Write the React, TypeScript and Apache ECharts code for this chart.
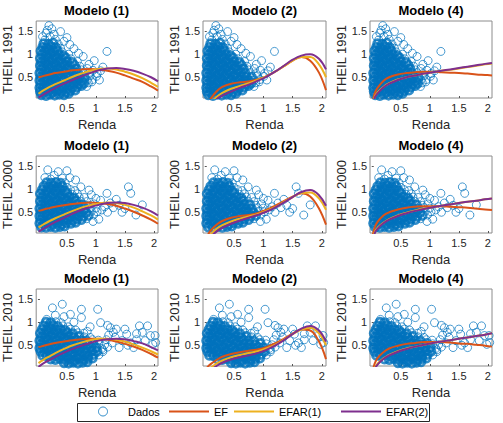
import React, { useEffect, useRef } from "react";
import * as echarts from "echarts";

const FONT = "'Liberation Sans', Arial, Helvetica, sans-serif";

const years = ["1991", "2000", "2010"];
const models = ["Modelo (1)", "Modelo (2)", "Modelo (4)"];
const curveNames = ["EF", "EFAR(1)", "EFAR(2)"];
const curveColors = ["#D95319", "#EDB120", "#7E2F8E"];
const xTicks = [0.5, 1, 1.5, 2];
const yTicks = [0.5, 1, 1.5];

const curveX = [0.01, 0.05, 0.1, 0.2, 0.3, 0.45, 0.6, 0.75, 0.9, 1.05, 1.2, 1.35, 1.5, 1.65, 1.8, 1.95, 2.07];

// ---- scatter data (Renda, THEIL): dense core and sparse points ----
const core1991 = [
  [0.06,0.12],[0.14,0.1],[0.21,0.13],[0.29,0.11],[0.37,0.13],[0.45,0.12],[0.53,0.15],
  [0.04,0.19],[0.1,0.18],[0.18,0.2],[0.25,0.18],[0.32,0.2],[0.4,0.19],[0.48,0.18],[0.56,0.21],[0.64,0.22],
  [0.03,0.27],[0.09,0.26],[0.16,0.28],[0.23,0.26],[0.3,0.27],[0.36,0.25],[0.43,0.28],[0.51,0.26],[0.59,0.28],[0.67,0.29],[0.75,0.32],
  [0.05,0.35],[0.12,0.34],[0.19,0.36],[0.26,0.34],[0.33,0.35],[0.41,0.33],[0.48,0.36],[0.55,0.34],[0.62,0.36],[0.7,0.35],[0.79,0.37],
  [0.03,0.43],[0.1,0.42],[0.16,0.44],[0.23,0.42],[0.31,0.43],[0.38,0.41],[0.45,0.44],[0.52,0.42],[0.6,0.44],[0.68,0.43],[0.76,0.42],
  [0.05,0.51],[0.12,0.5],[0.19,0.52],[0.26,0.5],[0.33,0.51],[0.4,0.49],[0.48,0.52],[0.55,0.5],[0.63,0.52],[0.71,0.51],[0.8,0.5],
  [0.03,0.59],[0.1,0.58],[0.17,0.6],[0.24,0.58],[0.3,0.59],[0.37,0.57],[0.45,0.6],[0.53,0.58],[0.61,0.6],[0.69,0.59],
  [0.06,0.67],[0.13,0.66],[0.2,0.68],[0.27,0.66],[0.34,0.67],[0.42,0.65],[0.49,0.68],[0.57,0.66],[0.66,0.68],
  [0.04,0.75],[0.1,0.74],[0.17,0.76],[0.24,0.74],[0.31,0.75],[0.39,0.73],[0.46,0.76],[0.54,0.74],[0.63,0.76],
  [0.06,0.83],[0.13,0.82],[0.2,0.84],[0.27,0.82],[0.35,0.83],[0.42,0.81],[0.5,0.84],[0.59,0.82],
  [0.04,0.91],[0.11,0.9],[0.18,0.92],[0.25,0.9],[0.32,0.91],[0.4,0.89],[0.48,0.92],
  [0.07,0.99],[0.14,0.98],[0.21,1.0],[0.29,0.98],[0.36,0.99],[0.44,0.97],
  [0.05,1.07],[0.12,1.06],[0.19,1.08],[0.27,1.06],[0.34,1.07],
  [0.08,1.15],[0.15,1.14],[0.23,1.16],[0.31,1.14],
  [0.1,1.23],[0.18,1.22],[0.26,1.24]
];
const sparse1991 = [
  [0.87,0.38],[0.85,0.44],[0.94,0.45],[0.9,0.53],[1.01,0.52],[0.78,0.6],[0.88,0.58],[0.75,0.66],[0.85,0.69],
  [0.72,0.74],[0.68,0.84],[0.57,0.9],[0.53,1.0],[0.42,1.05],[0.39,1.13],[0.35,1.22],
  [0.14,1.46],[0.19,1.62],[0.24,1.55],[0.39,1.49],[0.21,1.38],[0.3,1.32],[0.45,1.28],[0.55,1.21],[0.62,1.12],[0.7,1.02],
  [0.5,1.36],[0.12,1.31],[0.78,0.95],[0.88,0.78],[0.95,0.65],[1.02,0.58],[1.08,0.64],[1.06,0.44],[1.19,1.06],[0.97,0.86],
  [1.12,0.72],[0.93,0.4],[0.84,0.3],[0.16,1.52],[0.28,1.43],[0.08,1.38]
];

const core2000 = [
  [0.06,0.18],[0.14,0.17],[0.22,0.19],[0.3,0.17],[0.38,0.19],[0.46,0.2],
  [0.03,0.26],[0.1,0.25],[0.17,0.27],[0.25,0.25],[0.33,0.26],[0.41,0.24],[0.49,0.27],[0.57,0.26],[0.65,0.28],
  [0.05,0.34],[0.12,0.33],[0.2,0.35],[0.27,0.33],[0.35,0.34],[0.43,0.32],[0.51,0.35],[0.59,0.33],[0.67,0.35],[0.75,0.34],
  [0.03,0.42],[0.09,0.41],[0.16,0.43],[0.23,0.41],[0.31,0.42],[0.38,0.4],[0.46,0.43],[0.54,0.41],[0.62,0.43],[0.7,0.42],[0.78,0.41],[0.87,0.43],
  [0.05,0.5],[0.12,0.49],[0.19,0.51],[0.27,0.49],[0.34,0.5],[0.42,0.48],[0.5,0.51],[0.58,0.49],[0.66,0.51],[0.74,0.5],[0.83,0.49],
  [0.03,0.58],[0.1,0.57],[0.17,0.59],[0.24,0.57],[0.31,0.58],[0.39,0.56],[0.47,0.59],[0.55,0.57],[0.63,0.59],[0.71,0.58],[0.8,0.57],
  [0.06,0.66],[0.13,0.65],[0.2,0.67],[0.28,0.65],[0.36,0.66],[0.44,0.64],[0.52,0.67],[0.6,0.65],[0.68,0.67],[0.77,0.66],
  [0.04,0.74],[0.11,0.73],[0.18,0.75],[0.26,0.73],[0.33,0.74],[0.41,0.72],[0.49,0.75],[0.57,0.73],[0.65,0.75],
  [0.07,0.82],[0.14,0.81],[0.22,0.83],[0.3,0.81],[0.38,0.82],[0.46,0.8],[0.54,0.83],[0.62,0.81],
  [0.04,0.9],[0.11,0.89],[0.18,0.91],[0.26,0.89],[0.34,0.9],[0.42,0.88],[0.5,0.91],
  [0.07,0.98],[0.15,0.97],[0.23,0.99],[0.31,0.97],[0.39,0.98],[0.47,0.96],
  [0.1,1.06],[0.18,1.05],[0.26,1.07],[0.34,1.05],[0.42,1.06],
  [0.15,1.14],[0.23,1.13],[0.31,1.15],[0.39,1.13]
];
const sparse2000 = [
  [0.84,0.36],[0.96,0.44],[0.92,0.52],[1.02,0.51],[0.9,0.6],[1.0,0.59],[0.87,0.65],[0.97,0.68],[0.74,0.74],[0.84,0.73],
  [0.71,0.83],[0.8,0.82],[0.59,0.89],[0.68,0.9],[0.56,0.99],[0.64,0.97],[0.5,1.04],[0.47,1.14],
  [0.17,1.42],[0.35,1.38],[0.5,1.4],[0.28,1.3],[0.55,1.25],[0.65,1.2],[0.12,1.25],[0.42,1.24],[0.22,1.22],[0.74,1.05],
  [0.88,0.98],[1.0,0.8],[1.08,0.76],[1.19,0.91],[1.25,0.7],[1.3,0.6],[1.4,0.65],[1.5,0.58],[1.56,1.05],[1.6,0.91],
  [1.69,0.44],[1.8,0.66],[1.45,0.5],[1.35,0.78],[1.2,0.5],[1.1,0.55],[1.05,0.35],[0.95,0.3],[1.15,0.62],[0.92,0.88]
];

const core2010 = [
  [0.45,0.12],[0.53,0.11],[0.61,0.13],[0.69,0.11],[0.77,0.13],[0.85,0.14],
  [0.22,0.2],[0.3,0.19],[0.38,0.21],[0.46,0.19],[0.54,0.2],[0.62,0.18],[0.7,0.21],[0.78,0.19],[0.86,0.21],[0.94,0.22],
  [0.08,0.28],[0.15,0.27],[0.23,0.29],[0.31,0.27],[0.39,0.28],[0.47,0.26],[0.55,0.29],[0.63,0.27],[0.71,0.29],[0.79,0.28],[0.87,0.27],[0.96,0.3],
  [0.05,0.36],[0.12,0.35],[0.2,0.37],[0.28,0.35],[0.36,0.36],[0.44,0.34],[0.52,0.37],[0.6,0.35],[0.68,0.37],[0.76,0.36],[0.84,0.35],[0.93,0.38],[1.02,0.37],
  [0.03,0.44],[0.1,0.43],[0.17,0.45],[0.25,0.43],[0.33,0.44],[0.41,0.42],[0.49,0.45],[0.57,0.43],[0.65,0.45],[0.73,0.44],[0.82,0.43],[0.91,0.46],[1.0,0.45],
  [0.05,0.52],[0.12,0.51],[0.2,0.53],[0.28,0.51],[0.36,0.52],[0.44,0.5],[0.52,0.53],[0.6,0.51],[0.68,0.53],[0.77,0.52],[0.86,0.51],[0.95,0.54],
  [0.03,0.6],[0.1,0.59],[0.17,0.61],[0.25,0.59],[0.33,0.6],[0.41,0.58],[0.49,0.61],[0.57,0.59],[0.66,0.61],[0.75,0.6],[0.84,0.59],
  [0.06,0.68],[0.13,0.67],[0.21,0.69],[0.29,0.67],[0.37,0.68],[0.45,0.66],[0.53,0.69],[0.62,0.67],[0.71,0.69],
  [0.04,0.76],[0.11,0.75],[0.19,0.77],[0.27,0.75],[0.35,0.76],[0.43,0.74],[0.51,0.77],[0.6,0.75],
  [0.07,0.84],[0.15,0.83],[0.23,0.85],[0.31,0.83],[0.39,0.84],[0.47,0.82],
  [0.1,0.92],[0.18,0.91],[0.26,0.93],[0.34,0.91],
  [0.14,1.0],[0.22,0.99]
];
const sparse2010 = [
  [1.05,0.29],[1.12,0.36],[1.1,0.43],[1.2,0.46],[1.05,0.53],[1.15,0.51],[0.94,0.62],[1.04,0.61],[0.8,0.68],[0.9,0.67],
  [0.69,0.77],[0.79,0.76],[0.56,0.85],[0.65,0.83],[0.43,0.92],[0.52,0.9],[0.31,1.01],[0.4,0.99],
  [0.25,1.31],[0.42,1.39],[0.56,1.17],[0.75,1.1],[0.75,1.28],[1.03,1.28],[0.15,1.06],[0.3,1.15],[0.45,1.12],[1.08,0.99],
  [1.2,0.93],[1.25,0.88],[1.35,0.85],[0.62,1.0],[0.9,0.9],[0.85,0.8],[1.53,0.74],[1.75,0.92],[1.89,0.92],[1.94,0.71],
  [2.02,0.71],[2.03,0.56],[1.8,0.78],[1.33,0.67],[1.45,0.6],[1.6,0.55],[1.7,0.62],[1.85,0.6],[1.55,0.5],[1.65,0.45],
  [1.4,0.45],[1.98,0.52],[1.3,0.78],[1.5,0.85],[1.22,0.72],[1.7,0.75],[1.28,0.55],[1.18,0.62],[1.12,0.4]
];

// ---- fitted curves, THEIL values at curveX ----
// Modelo (1)
const m1_1991_EF    = [0.50,0.51,0.53,0.56,0.59,0.62,0.65,0.67,0.68,0.67,0.64,0.60,0.54,0.47,0.40,0.30,0.21];
const m1_1991_EFAR1 = [0.14,0.18,0.22,0.29,0.35,0.43,0.51,0.58,0.64,0.68,0.69,0.67,0.62,0.56,0.48,0.38,0.29];
const m1_1991_EFAR2 = [0.06,0.09,0.13,0.20,0.27,0.36,0.44,0.52,0.59,0.65,0.69,0.70,0.68,0.64,0.58,0.50,0.41];
const m1_2000_EF    = [0.53,0.54,0.56,0.59,0.62,0.65,0.68,0.70,0.71,0.70,0.68,0.64,0.58,0.51,0.43,0.34,0.25];
const m1_2000_EFAR1 = [0.17,0.20,0.24,0.31,0.37,0.45,0.53,0.60,0.65,0.69,0.71,0.70,0.66,0.60,0.52,0.43,0.34];
const m1_2000_EFAR2 = [0.08,0.11,0.15,0.22,0.29,0.38,0.47,0.55,0.61,0.66,0.70,0.71,0.70,0.66,0.60,0.52,0.43];
const m1_2010_EF    = [0.46,0.47,0.49,0.52,0.55,0.58,0.61,0.63,0.64,0.64,0.62,0.58,0.53,0.47,0.40,0.31,0.23];
const m1_2010_EFAR1 = [0.11,0.15,0.19,0.26,0.33,0.42,0.50,0.56,0.61,0.64,0.64,0.62,0.58,0.52,0.45,0.37,0.30];
const m1_2010_EFAR2 = [0.03,0.07,0.11,0.18,0.25,0.34,0.42,0.49,0.55,0.60,0.63,0.64,0.63,0.59,0.54,0.46,0.39];
// Modelo (2)
const m2_1991_EF    = [-0.20,-0.08,0.03,0.19,0.29,0.36,0.39,0.41,0.45,0.52,0.62,0.74,0.86,0.94,0.86,0.60,0.22];
const m2_1991_EFAR1 = [-0.22,-0.15,-0.06,0.07,0.16,0.25,0.31,0.37,0.44,0.52,0.62,0.74,0.86,0.94,0.94,0.78,0.50];
const m2_1991_EFAR2 = [-0.25,-0.19,-0.12,0.02,0.10,0.19,0.27,0.34,0.42,0.51,0.62,0.75,0.88,0.97,1.00,0.90,0.67];
const m2_2000_EF    = [-0.10,0.00,0.10,0.23,0.31,0.38,0.42,0.44,0.48,0.55,0.64,0.74,0.84,0.91,0.84,0.58,0.23];
const m2_2000_EFAR1 = [-0.12,-0.05,0.02,0.14,0.22,0.30,0.36,0.41,0.46,0.53,0.61,0.72,0.83,0.92,0.93,0.80,0.55];
const m2_2000_EFAR2 = [-0.15,-0.09,-0.03,0.08,0.16,0.25,0.32,0.38,0.44,0.51,0.60,0.71,0.83,0.94,0.98,0.87,0.64];
const m2_2010_EF    = [-0.05,0.03,0.09,0.18,0.25,0.31,0.35,0.38,0.41,0.46,0.54,0.64,0.75,0.84,0.82,0.58,0.20];
const m2_2010_EFAR1 = [-0.08,-0.03,0.01,0.10,0.17,0.24,0.29,0.33,0.37,0.43,0.51,0.62,0.74,0.84,0.88,0.76,0.50];
const m2_2010_EFAR2 = [-0.12,-0.08,-0.04,0.05,0.12,0.19,0.24,0.28,0.33,0.40,0.49,0.61,0.74,0.86,0.92,0.82,0.58];
// Modelo (4)
const m4_1991_EF    = [-0.10,0.15,0.27,0.42,0.50,0.56,0.59,0.61,0.62,0.62,0.61,0.60,0.59,0.58,0.56,0.55,0.54];
const m4_1991_EFAR1 = [-0.18,0.07,0.17,0.29,0.37,0.45,0.50,0.54,0.58,0.61,0.64,0.66,0.69,0.72,0.75,0.78,0.80];
const m4_1991_EFAR2 = [-0.20,0.05,0.15,0.28,0.36,0.44,0.50,0.54,0.58,0.61,0.64,0.67,0.70,0.73,0.76,0.79,0.81];
const m4_2000_EF    = [-0.05,0.17,0.29,0.43,0.50,0.56,0.60,0.62,0.63,0.63,0.63,0.62,0.61,0.60,0.58,0.56,0.55];
const m4_2000_EFAR1 = [-0.18,0.06,0.16,0.27,0.35,0.43,0.49,0.54,0.58,0.61,0.64,0.67,0.70,0.73,0.75,0.78,0.80];
const m4_2000_EFAR2 = [-0.20,0.04,0.14,0.26,0.34,0.42,0.48,0.53,0.57,0.61,0.64,0.67,0.70,0.73,0.75,0.78,0.80];
const m4_2010_EF    = [-0.10,0.10,0.22,0.35,0.43,0.49,0.53,0.55,0.57,0.57,0.57,0.56,0.54,0.53,0.51,0.49,0.47];
const m4_2010_EFAR1 = [-0.23,0.00,0.10,0.21,0.29,0.37,0.43,0.47,0.51,0.55,0.58,0.61,0.64,0.67,0.70,0.73,0.76];
const m4_2010_EFAR2 = [-0.25,-0.02,0.08,0.20,0.28,0.36,0.42,0.47,0.51,0.55,0.58,0.61,0.64,0.67,0.70,0.73,0.76];

const coreByYear = [core1991, core2000, core2010];
const sparseByYear = [sparse1991, sparse2000, sparse2010];
const curvesByPanel = [
  [[m1_1991_EF, m1_1991_EFAR1, m1_1991_EFAR2], [m2_1991_EF, m2_1991_EFAR1, m2_1991_EFAR2], [m4_1991_EF, m4_1991_EFAR1, m4_1991_EFAR2]],
  [[m1_2000_EF, m1_2000_EFAR1, m1_2000_EFAR2], [m2_2000_EF, m2_2000_EFAR1, m2_2000_EFAR2], [m4_2000_EF, m4_2000_EFAR1, m4_2000_EFAR2]],
  [[m1_2010_EF, m1_2010_EFAR1, m1_2010_EFAR2], [m2_2010_EF, m2_2010_EFAR1, m2_2010_EFAR2], [m4_2010_EF, m4_2010_EFAR1, m4_2010_EFAR2]],
];

const colLeft = [35, 203, 370];
const colWidth = [123, 123, 122];
const rowTop = [21, 156, 289];
const rowHeight = 77;

const legendLefts = [98, 168, 233, 340];
const BLUE = "#0072BD";

function buildOption() {
  const grid: any[] = [];
  const xAxis: any[] = [];
  const yAxis: any[] = [];
  const title: any[] = [];
  const series: any[] = [];
  for (let r = 0; r < 3; r++) {
    for (let c = 0; c < 3; c++) {
      const i = r * 3 + c;
      grid.push({
        left: colLeft[c], top: rowTop[r], width: colWidth[c], height: rowHeight,
        show: true, borderColor: "#8c8c8c", borderWidth: 1, backgroundColor: "#fff",
      });
      title.push({
        text: models[c], left: colLeft[c] + colWidth[c] / 2, top: rowTop[r] - 17,
        textAlign: "center", padding: 0,
        textStyle: { fontSize: 13, fontWeight: "bold", color: "#000", fontFamily: FONT },
      });
      xAxis.push({
        gridIndex: i, type: "value", min: -0.03, max: 2.07,
        axisLine: { show: false }, splitLine: { show: false },
        axisTick: { show: true, inside: true, length: 2, customValues: xTicks, lineStyle: { color: "#555" } },
        axisLabel: { customValues: xTicks, fontSize: 11, color: "#262626", margin: 4, fontFamily: FONT },
        name: "Renda", nameLocation: "middle", nameGap: 20,
        nameTextStyle: { fontSize: 13, color: "#262626", fontFamily: FONT },
      });
      yAxis.push({
        gridIndex: i, type: "value", min: 0.05, max: 1.72,
        axisLine: { show: false }, splitLine: { show: false },
        axisTick: { show: true, inside: true, length: 2, customValues: yTicks, lineStyle: { color: "#555" } },
        axisLabel: { customValues: yTicks, fontSize: 11, color: "#262626", margin: 3, fontFamily: FONT },
        name: "THEIL " + years[r], nameLocation: "middle", nameGap: 20,
        nameTextStyle: { fontSize: 13, color: "#262626", fontFamily: FONT },
      });
      series.push({
        type: "scatter", name: "Dados", xAxisIndex: i, yAxisIndex: i,
        data: coreByYear[r], symbol: "circle", symbolSize: 8,
        itemStyle: { color: "rgba(0,0,0,0)", borderColor: BLUE, borderWidth: 2.7 },
        z: 2,
      });
      series.push({
        type: "scatter", name: "Dados", xAxisIndex: i, yAxisIndex: i,
        data: sparseByYear[r], symbol: "circle", symbolSize: 8,
        itemStyle: { color: "rgba(0,0,0,0)", borderColor: BLUE, borderWidth: 0.9 },
        z: 2,
      });
      curveNames.forEach((nm, k) => {
        const ys = curvesByPanel[r][c][k];
        series.push({
          type: "line", name: nm, xAxisIndex: i, yAxisIndex: i,
          data: curveX.map((x, j) => [x, ys[j]]),
          smooth: 0.4, symbol: "none", clip: true,
          lineStyle: { width: 2, color: curveColors[k] },
          itemStyle: { color: curveColors[k] },
          z: 3 + k,
        });
      });
    }
  }
  const legendItems: any[] = [
    { name: "Dados", icon: "circle", itemStyle: { color: "rgba(0,0,0,0)", borderColor: BLUE, borderWidth: 1 } },
    { name: "EF", itemStyle: { opacity: 0 } },
    { name: "EFAR(1)", itemStyle: { opacity: 0 } },
    { name: "EFAR(2)", itemStyle: { opacity: 0 } },
  ];
  const legend = legendItems.map((item, k) => ({
    data: [item], left: legendLefts[k], top: 406, orient: "horizontal",
    padding: 0, itemWidth: 40, itemHeight: 9, selectedMode: false,
    textStyle: { fontSize: 11, color: "#000", fontFamily: FONT },
  }));
  return {
    animation: false,
    backgroundColor: "#fff",
    textStyle: { fontFamily: FONT },
    title, grid, xAxis, yAxis, series, legend,
    graphic: [
      {
        type: "rect", z: -1,
        shape: { x: 77.5, y: 403.5, width: 352, height: 18 },
        style: { fill: "#fff", stroke: "#262626", lineWidth: 1 },
      },
    ],
  };
}

export default function App() {
  const ref = useRef<HTMLDivElement>(null);
  useEffect(() => {
    if (!ref.current) return;
    const chart = echarts.init(ref.current, null, { renderer: "svg" });
    chart.setOption(buildOption() as any);
    return () => chart.dispose();
  }, []);
  return (
    <div
      ref={ref}
      style={{ position: "absolute", left: 0, top: 0, width: 503, height: 423, background: "#fff" }}
    />
  );
}
